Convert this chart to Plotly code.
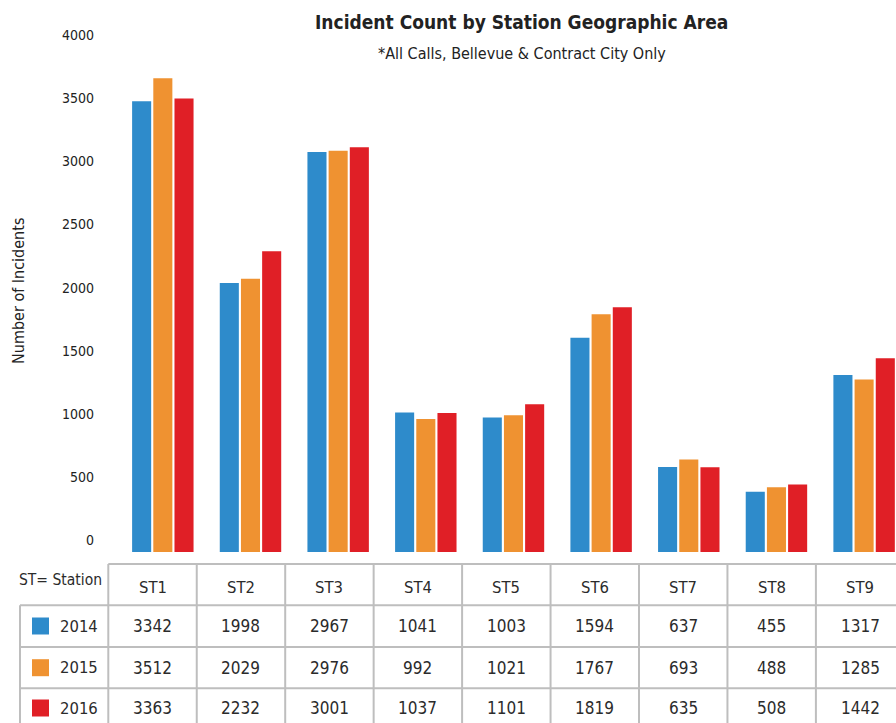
import plotly.graph_objects as go

# ---------------- data ----------------
stations = ["ST1", "ST2", "ST3", "ST4", "ST5", "ST6", "ST7", "ST8", "ST9"]
years = ["2014", "2015", "2016"]
incidents_2014 = [3342, 1998, 2967, 1041, 1003, 1594, 637, 455, 1317]
incidents_2015 = [3512, 2029, 2976, 992, 1021, 1767, 693, 488, 1285]
incidents_2016 = [3363, 2232, 3001, 1037, 1101, 1819, 635, 508, 1442]
axis_ticks = [0, 500, 1000, 1500, 2000, 2500, 3000, 3500, 4000]

series = [incidents_2014, incidents_2015, incidents_2016]
colors = ["#2E8BCB", "#EF9231", "#E01F26"]

FONT = "'DejaVu Sans Condensed', 'Liberation Sans Narrow', 'Roboto Condensed', Roboto, sans-serif"
TXT = "#2b2b2b"

# ---------------- geometry (pixels) ----------------
WIDTH, HEIGHT = 896, 723
L, R, T, B = 119, 896, 10, 552        # plot area in page pixels
PW, PH = R - L, B - T


def px(x):
    return (x - L) / PW


def py(y):
    return (B - y) / PH


fig = go.Figure()
for name, vals, col in zip(years, series, colors):
    fig.add_trace(go.Bar(x=stations, y=vals, name=name, marker_color=col,
                         marker_line_width=0, showlegend=False))
# empty trace so the labelled value axis is drawn
fig.add_trace(go.Scatter(x=[], y=[], yaxis="y2", showlegend=False, hoverinfo="skip"))

# primary axis scale: 0 at y=553.2, 0.13523 px per incident
k = 0.13523
y0_px = 553.2
ymin = (y0_px - B) / k
ymax = ymin + PH / k

# label axis: 0 label at y=540, 63.1 px per 500
k2 = 63.1 / 500
y2min = (540 - B) / k2
y2max = (540 - T) / k2

shapes = []
annotations = []


def note(text, x, y, size, color=TXT, **kw):
    annotations.append(dict(text=text, xref="paper", yref="paper", x=px(x), y=py(y),
                            xanchor="center", yanchor="middle", showarrow=False,
                            font=dict(family=FONT, size=size, color=color), **kw))


# table grid
line = dict(color="#BEBEBE", width=2)
col_edges = [108.3 + 88.45 * i for i in range(10)]
shapes.append(dict(type="line", xref="paper", yref="paper",
                   x0=px(108.3), x1=px(900), y0=py(564), y1=py(564), line=line))
for yy in [605.3, 647, 688.3]:
    shapes.append(dict(type="line", xref="paper", yref="paper",
                       x0=px(20), x1=px(900), y0=py(yy), y1=py(yy), line=line))
shapes.append(dict(type="line", xref="paper", yref="paper",
                   x0=px(20), x1=px(20), y0=py(605.3), y1=py(730), line=line))
for xe in col_edges:
    shapes.append(dict(type="line", xref="paper", yref="paper",
                       x0=px(xe), x1=px(xe), y0=py(564), y1=py(730), line=line))

# header
note("ST= Station", 60.5, 580, 15.5)
row_y = [626, 667.7, 708]
for i, st in enumerate(stations):
    cx = (col_edges[i] + col_edges[i + 1]) / 2
    note(st, cx, 587, 16.5)
    for r, vals in enumerate(series):
        note(str(vals[i]), cx, row_y[r], 17)

# legend rows
for r, (yr, col) in enumerate(zip(years, colors)):
    shapes.append(dict(type="rect", xref="paper", yref="paper",
                       x0=px(32), x1=px(49), y0=py(row_y[r] - 8.5), y1=py(row_y[r] + 8.5),
                       fillcolor=col, line=dict(width=0)))
    note(yr, 78.5, row_y[r], 16.5)

# titles
note("<b>Incident Count by Station Geographic Area</b>", 521.5, 22, 19, "#222222")
note("*All Calls, Bellevue &amp; Contract City Only", 522, 53, 16, "#222222")
note("Number of Incidents", 18, 291, 16, "#222222", textangle=-90)

fig.update_layout(
    width=WIDTH, height=HEIGHT,
    margin=dict(l=L, r=WIDTH - R, t=T, b=HEIGHT - B),
    paper_bgcolor="white", plot_bgcolor="white",
    barmode="group", bargap=0.275, bargroupgap=0.1,
    xaxis=dict(range=[-0.5, -0.5 + PW / 87.66], showticklabels=False, showgrid=False,
               zeroline=False, showline=False, ticks=""),
    yaxis=dict(range=[ymin, ymax], showticklabels=False, showgrid=False,
               zeroline=False, showline=False, ticks=""),
    yaxis2=dict(range=[y2min, y2max], overlaying="y", side="left", anchor="x",
                tickvals=axis_ticks, ticktext=[str(v) for v in axis_ticks],
                showgrid=False, zeroline=False, showline=False, ticks="",
                ticklabelstandoff=24,
                tickfont=dict(family=FONT, size=14, color="#222222")),
    shapes=shapes, annotations=annotations,
)

fig.write_html("out.html", config={"displayModeBar": False},
               post_script="document.body.style.margin='0';")
